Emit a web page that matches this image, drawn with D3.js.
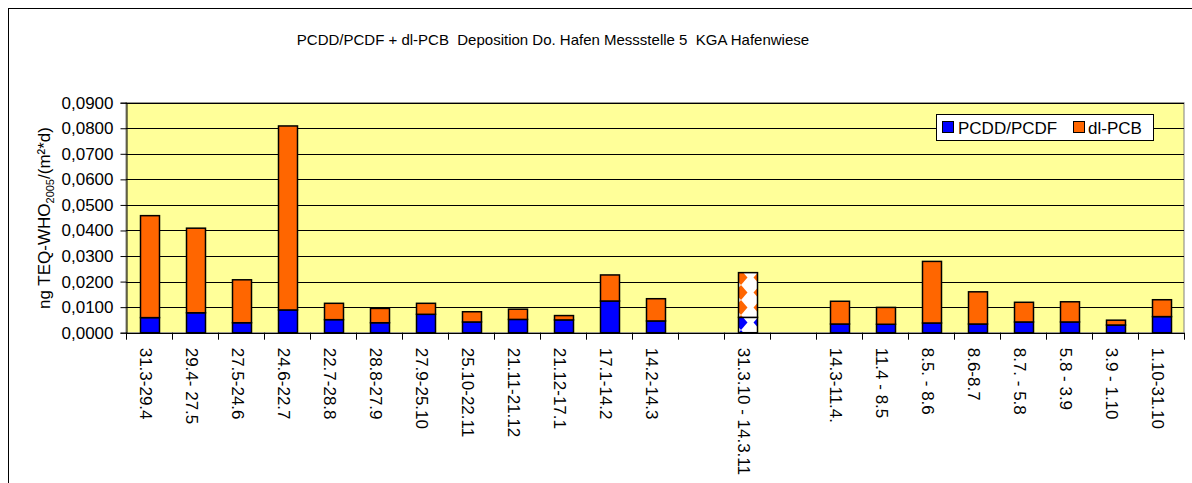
<!DOCTYPE html>
<html>
<head>
<meta charset="utf-8">
<script src="https://cdn.jsdelivr.net/npm/d3@7"></script>
<style>
  html, body { margin: 0; padding: 0; background: #fff; }
  svg { display: block; font-family: Arial, "Liberation Sans", sans-serif; }
</style>
</head>
<body>
<svg id="chart" width="1192" height="483"></svg>
<script>
// ---- data ----
const categories = ["31.3-29.4","29.4- 27.5","27.5-24.6","24.6-22.7","22.7-28.8","28.8-27.9","27.9-25.10","25.10-22.11","21.11-21.12","21.12-17.1","17.1-14.2","14.2-14.3","","31.3.10 - 14.3.11","","14.3-11.4.","11.4 - 8.5","8.5. - 8.6","8.6-8.7","8.7. - 5.8","5.8 - 3.9","3.9 - 1.10","1.10-31.10"];
const pcddPcdf = [0.0059,0.0078,0.0039,0.0089,0.0051,0.0039,0.0072,0.0042,0.0052,0.0050,0.0124,0.0046,null,0.0060,null,0.0034,0.0033,0.0038,0.0034,0.0042,0.0042,0.0030,0.0063];
const dlPcb    = [0.0399,0.0331,0.0168,0.0720,0.0064,0.0056,0.0043,0.0040,0.0040,0.0017,0.0102,0.0087,null,0.0175,null,0.0089,0.0066,0.0241,0.0126,0.0077,0.0079,0.0019,0.0066];
const patternedCategories = ["31.3.10 - 14.3.11"];
const yTicks = [0,0.01,0.02,0.03,0.04,0.05,0.06,0.07,0.08,0.09];
const seriesNames = ["PCDD/PCDF","dl-PCB"];
const seriesColors = ["#0000FF","#FF6600"];
const titleText = "PCDD/PCDF + dl-PCB  Deposition Do. Hafen Messstelle 5  KGA Hafenwiese";

// ---- layout ----
const svg = d3.select("#chart");
const plot = {left: 126, top: 102.7, right: 1184, bottom: 332.7};
const FS = 17;

// outer frame
svg.append("rect").attr("x", 8.5).attr("y", 8.5).attr("width", 1300).attr("height", 600)
  .attr("fill", "#fff").attr("stroke", "#000").attr("stroke-width", 1);

// patterns
const defs = svg.append("defs");
seriesColors.forEach((c, i) => {
  const p = defs.append("pattern").attr("id", "pat" + i).attr("patternUnits", "userSpaceOnUse")
    .attr("width", 19).attr("height", 15);
  p.append("rect").attr("width", 19).attr("height", 15).attr("fill", "#fff");
  p.append("path").attr("d", "M9.5,0 L16,7.5 L9.5,15 L3,7.5 Z").attr("fill", c).attr("transform","translate(-9.5,0)");
  p.append("path").attr("d", "M9.5,0 L16,7.5 L9.5,15 L3,7.5 Z").attr("fill", c).attr("transform","translate(9.5,0)");
  p.append("path").attr("d", "M9.5,7.5 L13,11 L9.5,15 L6,11 Z M9.5,0 L13,3.5 L9.5,7.5 L6,3.5 Z").attr("fill", "#fff");
});

const idx = categories.map((d, i) => i);
const x = d3.scaleBand().domain(idx).range([plot.left, plot.right]).paddingInner(0.59).paddingOuter(0.295);
const xEdges = d3.scaleBand().domain(idx).range([plot.left, plot.right]).padding(0);
const y = d3.scaleLinear().domain([0, 0.09]).range([plot.bottom, plot.top]);

// plot background
svg.append("rect").attr("x", plot.left).attr("y", plot.top)
  .attr("width", plot.right - plot.left).attr("height", plot.bottom - plot.top)
  .attr("fill", "#FFFF99").attr("stroke", "#808080").attr("stroke-width", 1);

// gridlines
svg.append("g").selectAll("line").data(yTicks.filter(t => t > 0)).join("line")
  .attr("x1", plot.left).attr("x2", plot.right)
  .attr("y1", d => Math.round(y(d)) + 0.5).attr("y2", d => Math.round(y(d)) + 0.5)
  .attr("stroke", "#000").attr("stroke-width", 1);

// title
svg.append("text").attr("x", 553).attr("y", 45).attr("text-anchor", "middle")
  .attr("font-size", 15).style("white-space", "pre").attr("fill", "#000").text(titleText);

// legend
const lg = svg.append("g");
lg.append("rect").attr("x", 936.5).attr("y", 114.5).attr("width", 217).attr("height", 26)
  .attr("fill", "#fff").attr("stroke", "#000");
const legendPos = [{sx: 942, tx: 958}, {sx: 1073, tx: 1088}];
seriesNames.forEach((n, i) => {
  lg.append("rect").attr("x", legendPos[i].sx + 0.5).attr("y", 121.5).attr("width", 11).attr("height", 11)
    .attr("fill", seriesColors[i]).attr("stroke", "#000");
  lg.append("text").attr("x", legendPos[i].tx).attr("y", 133.5).attr("font-size", FS).text(n);
});

// stacked data
const rows = idx.map(i => ({i, a: pcddPcdf[i], b: dlPcb[i], cat: categories[i]})).filter(r => r.a != null);
const stack = d3.stack().keys(["a", "b"])(rows);

const barG = svg.append("g");
stack.forEach((layer, li) => {
  barG.selectAll(null).data(layer).join("rect")
    .attr("x", d => Math.round(x(d.data.i)) + 0.5)
    .attr("width", Math.round(x.bandwidth()))
    .attr("y", d => y(d[1]))
    .attr("height", d => y(d[0]) - y(d[1]))
    .attr("fill", d => patternedCategories.includes(d.data.cat) ? "url(#pat" + li + ")" : seriesColors[li])
    .attr("stroke", "#000").attr("stroke-width", 1.5);
});

// y axis
const yAxis = d3.axisLeft(y).tickValues(yTicks).tickSize(6).tickPadding(7)
  .tickFormat(d => d3.format(".4f")(d).replace(".", ","));
const ya = svg.append("g").attr("transform", `translate(${plot.left + 0.5},0)`).call(yAxis);
ya.selectAll("text").attr("font-size", FS).attr("font-family", "Arial, 'Liberation Sans', sans-serif").attr("fill", "#000");
ya.selectAll("line").attr("stroke", "#000");
ya.select(".domain").attr("stroke", "#000");

// x axis line & ticks at category boundaries
const xa = svg.append("g");
xa.append("line").attr("x1", plot.left).attr("x2", plot.right)
  .attr("y1", Math.round(plot.bottom) + 0.5).attr("y2", Math.round(plot.bottom) + 0.5).attr("stroke", "#000");
const edges = idx.map(i => xEdges(i)).concat([plot.right]);
xa.selectAll("line.tk").data(edges).join("line").attr("class", "tk")
  .attr("x1", d => Math.round(d) + 0.5).attr("x2", d => Math.round(d) + 0.5)
  .attr("y1", plot.bottom).attr("y2", plot.bottom + 7).attr("stroke", "#000");
xa.selectAll("text").data(idx).join("text")
  .attr("transform", i => `translate(${xEdges(i) + xEdges.bandwidth() / 2 - 3},${plot.bottom + 15}) rotate(90)`)
  .attr("dy", "0.35em").attr("font-size", FS).style("white-space", "pre")
  .text(i => categories[i]);

// y axis title
const yt = svg.append("text").attr("transform", `translate(50,218) rotate(-90)`)
  .attr("text-anchor", "middle").attr("font-size", FS);
yt.append("tspan").text("ng TEQ-WHO");
yt.append("tspan").attr("font-size", 11).attr("dy", 4).text("2005");
yt.append("tspan").attr("dy", -4).text("/(m²*d)");
</script>
</body>
</html>
